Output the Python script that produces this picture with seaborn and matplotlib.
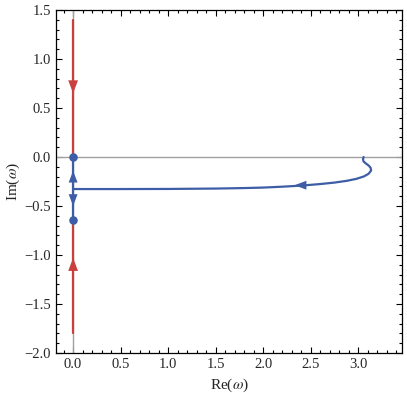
import numpy as np
import pandas as pd
import seaborn as sns
import matplotlib.pyplot as plt
from matplotlib.ticker import MultipleLocator, FuncFormatter

# trajectory of the mode coming in from Re(w) ~ 3 down to the imaginary axis
curve_re = [0.0, 0.5, 1.0, 1.5, 1.8, 2.0, 2.2, 2.4, 2.6, 2.75, 2.88, 2.98, 3.06,
            3.11, 3.135, 3.13, 3.11, 3.08, 3.055, 3.05, 3.056]
curve_im = [-0.327, -0.327, -0.326, -0.322, -0.317, -0.312, -0.303, -0.292, -0.276,
            -0.261, -0.243, -0.223, -0.198, -0.17, -0.138, -0.11, -0.088, -0.066,
            -0.045, -0.022, 0.0]

# purely imaginary branches
blue_im = [0.0, -0.645]
red_upper_im = [1.40, 0.0]
red_lower_im = [-1.80, -0.645]
dots_im = [0.0, -0.645]

# arrow tips (re, im, direction)
blue_arrows = [(2.33, -0.288, 'left'), (0.0, -0.14, 'up'), (0.0, -0.50, 'down')]
red_arrows = [(0.0, 0.65, 'down'), (0.0, -1.03, 'up')]

BLUE = '#3d5ea6'
RED = '#c9403f'

sns.set_style("ticks")
plt.rcParams['font.family'] = ['Liberation Serif', 'DejaVu Serif']
plt.rcParams['mathtext.fontset'] = 'stix'
plt.rcParams['axes.unicode_minus'] = True

fig = plt.figure(figsize=(4.07, 3.93), dpi=100)
ax = fig.add_axes([56 / 407, 40 / 393, 346 / 407, 343 / 393])

ax.axhline(0, color='#a0a0a0', lw=1.0, zorder=1)
ax.axvline(0, color='#a0a0a0', lw=1.0, zorder=1)


def path(re, im, color, z):
    d = pd.DataFrame({'re': re, 'im': im})
    sns.lineplot(data=d, x='re', y='im', sort=False, estimator=None, errorbar=None,
                 color=color, lw=1.6, ax=ax, zorder=z)


path(curve_re, curve_im, BLUE, 3)
path([0.0] * 2, blue_im, BLUE, 3)
path([0.0] * 2, red_upper_im, RED, 2)
path([0.0] * 2, red_lower_im, RED, 2)

dots = pd.DataFrame({'re': [0.0] * len(dots_im), 'im': dots_im})
sns.scatterplot(data=dots, x='re', y='im', color=BLUE, s=38, linewidth=0, ax=ax, zorder=4)

step = {'left': (0.12, 0.0), 'up': (0.0, -0.12), 'down': (0.0, 0.12)}


def draw_arrows(arrows, color, scale=10):
    for x, y, d in arrows:
        dx, dy = step[d]
        ax.annotate('', xy=(x, y), xytext=(x + dx, y + dy),
                    arrowprops=dict(arrowstyle='-|>,head_length=0.85,head_width=0.32',
                                    color=color, lw=0, shrinkA=0, shrinkB=0,
                                    mutation_scale=scale), zorder=5)


draw_arrows(blue_arrows, BLUE)
draw_arrows(red_arrows, RED, 11)

ax.set_xlim(-0.18, 3.46)
ax.set_ylim(-2.0, 1.5)
ax.xaxis.set_major_locator(MultipleLocator(0.5))
ax.xaxis.set_minor_locator(MultipleLocator(0.1))
ax.yaxis.set_major_locator(MultipleLocator(0.5))
ax.yaxis.set_minor_locator(MultipleLocator(0.1))
fmt = FuncFormatter(lambda v, p: f'{v:.1f}'.replace('-', '\u2212'))
ax.xaxis.set_major_formatter(fmt)
ax.yaxis.set_major_formatter(fmt)
ax.tick_params(which='both', direction='in', top=True, right=True,
               labelsize=10.5, color='black', width=0.8)
ax.tick_params(which='major', length=4)
ax.tick_params(which='minor', length=2)
for s in ax.spines.values():
    s.set_color('black')
    s.set_linewidth(0.9)

ax.set_xlabel(r'Re($\omega$)', fontsize=11, labelpad=4)
ax.set_ylabel(r'Im($\omega$)', fontsize=11, labelpad=2)

fig.savefig('out.png', dpi=100)
plt.close(fig)
